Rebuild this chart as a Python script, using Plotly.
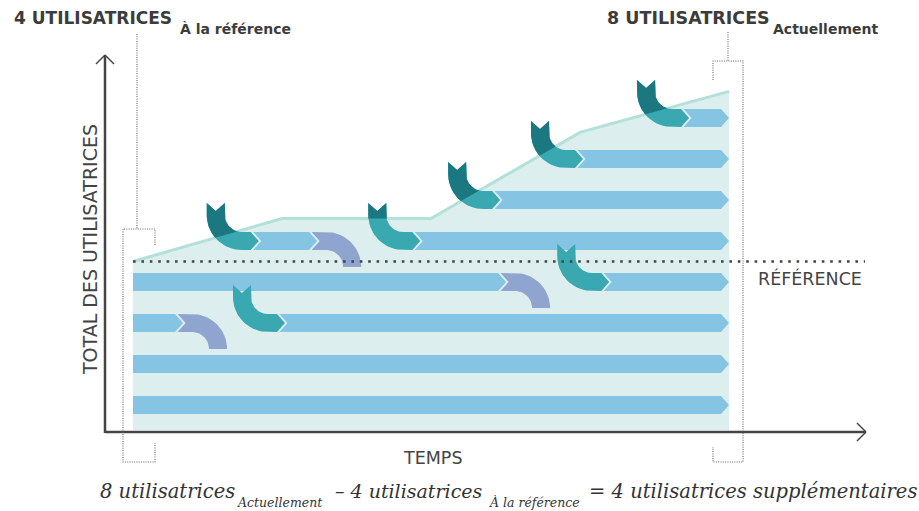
import math
import plotly.graph_objects as go

# ---------------- data ----------------
env_time = [0, 25, 50, 75, 100]            # time points of the total-users envelope
env_users = [4.0, 5.05, 5.05, 7.15, 8.15]  # total users (envelope height)
reference_users = 4

seg_lane = [0, 1, 2, 2, 3, 3, 4, 4, 5, 6, 7]
seg_start = [0, 0, 0, 25.5, 0, 79.9, 21.1, 48.2, 61.6, 75.5, 93.3]
seg_end = [100, 100, 8.4, 100, 62.6, 100, 30.9, 100, 100, 100, 100]

join_lane = [4, 2, 4, 5, 3, 6, 7]
join_time = [21.1, 25.5, 48.2, 61.6, 79.9, 75.5, 93.3]
leave_lane = [2, 4, 3]
leave_time = [8.4, 30.9, 62.6]

title_left = "4 UTILISATRICES"
title_left_sub = "À la référence"
title_right = "8 UTILISATRICES"
title_right_sub = "Actuellement"
x_label = "TEMPS"
y_label = "TOTAL DES UTILISATRICES"
ref_label = "RÉFÉRENCE"
formula_parts = ["8 utilisatrices", "Actuellement", "– 4 utilisatrices",
                 "À la référence", "= 4 utilisatrices supplémentaires"]

# ---------------- layout / style constants ----------------
W, H = 919, 511
X0, SX = 133.0, 5.96     # pixel of t=0, pixels per time unit
Y0, SY = 425.5, 41.0     # pixel of 0 users, pixels per user
HB, D, G = 9.0, 8.0, 2.5  # half bar height, chevron depth, gap (px)
RO = 35.0
RI = RO - 2 * HB
TAIL, NOTCH = 12.0, 8.0

C_AREA = "#dceeed"
C_ENV = "#b4e0da"
C_BAR = "#86c4e4"
C_TEAL = "#3aa8b0"
C_DARK = "#1b7880"
C_PURPLE = "#8fa4ce"
C_AXIS = "#444444"
C_TEXT = "#3c3c3c"


def to_px(t, u):
    return X0 + t * SX, Y0 - u * SY


def lane_px(k):
    return Y0 - (k + 0.5) * SY


def arc(xc, yc, r, a0, a1, n=18):
    out = []
    for i in range(n + 1):
        a = math.radians(a0 + (a1 - a0) * i / n)
        out.append((xc + r * math.cos(a), yc + r * math.sin(a)))
    return out


def add_poly(store, pts):
    for x, y in pts + [pts[0]]:
        store[0].append((x - X0) / SX)
        store[1].append((Y0 - y) / SY)
    store[0].append(None)
    store[1].append(None)


# bars
bars = ([], [])
for k, s, e in zip(seg_lane, seg_start, seg_end):
    yl = lane_px(k)
    xs, _ = to_px(s, 0)
    xe, _ = to_px(e, 0)
    pts = []
    if s == 0:
        pts += [(xs, yl + HB), (xs, yl - HB)]
    else:
        pts += [(xs + G, yl), (xs - D + G, yl - HB)]
    pts += [(xe - D, yl - HB), (xe, yl), (xe - D, yl + HB)]
    if s != 0:
        pts += [(xs - D + G, yl + HB)]
    add_poly(bars, pts)

# leave arrows (purple)
purple = ([], [])
for k, t in zip(leave_lane, leave_time):
    yl = lane_px(k)
    xb, _ = to_px(t, 0)
    xc, yc = xb + 9, yl - HB + RO
    pts = [(xb - D + G, yl - HB), (xc, yl - HB)]
    pts += arc(xc, yc, RO, -90, 0)
    pts += arc(xc, yc, RI, 0, -90)
    pts += [(xb - D + G, yl + HB), (xb + G, yl)]
    add_poly(purple, pts)

# envelope in px
env_px = [to_px(t, u) for t, u in zip(env_time, env_users)]


def clip_above(poly, p1, p2):
    (x1, y1), (x2, y2) = p1, p2

    def f(p):
        return p[1] - (y1 + (p[0] - x1) * (y2 - y1) / (x2 - x1))
    out = []
    n = len(poly)
    for i in range(n):
        P, Q = poly[i], poly[(i + 1) % n]
        fp, fq = f(P), f(Q)
        if fp <= 0:
            out.append(P)
        if (fp < 0) != (fq < 0) and fp != fq:
            s = fp / (fp - fq)
            out.append((P[0] + s * (Q[0] - P[0]), P[1] + s * (Q[1] - P[1])))
    return out


teal = ([], [])
dark = ([], [])
for k, t in zip(join_lane, join_time):
    yl = lane_px(k)
    xt, _ = to_px(t, 0)
    xc, yc = xt - 17, yl + HB - RO
    ytop = yc - TAIL
    pts = [(xc - RO, ytop), (xc - (RO + RI) / 2, ytop + NOTCH), (xc - RI, ytop)]
    pts += arc(xc, yc, RI, 180, 90)
    pts += [(xt - D, yl - HB), (xt, yl), (xt - D, yl + HB)]
    pts += arc(xc, yc, RO, 90, 180)
    add_poly(teal, pts)
    xr = xc - (RO + RI) / 2
    for p1, p2 in zip(env_px[:-1], env_px[1:]):
        if p1[0] <= xr <= p2[0]:
            cp = clip_above(pts, p1, p2)
            if len(cp) >= 3:
                add_poly(dark, cp)
            break

ub = (Y0 - 430) / SY
area_x = env_time + [env_time[-1], env_time[0]]
area_y = env_users + [ub, ub]

fig = go.Figure()
fig.add_trace(go.Scatter(x=area_x, y=area_y, fill="toself", fillcolor=C_AREA,
                         mode="lines", line=dict(width=0), hoverinfo="skip"))
fig.add_trace(go.Scatter(x=env_time, y=env_users, mode="lines",
                         line=dict(color=C_ENV, width=3), hoverinfo="skip"))
for store, col in [(bars, C_BAR), (purple, C_PURPLE), (teal, C_TEAL), (dark, C_DARK)]:
    fig.add_trace(go.Scatter(x=store[0], y=store[1], fill="toself", fillcolor=col,
                             mode="lines", line=dict(width=0), hoverinfo="skip"))
ref_end = (865 - X0) / SX
fig.add_trace(go.Scatter(x=[0, ref_end], y=[reference_users, reference_users], mode="lines",
                         line=dict(color=C_AXIS, width=2.6, dash="2.6px,5.8px"),
                         hoverinfo="skip"))


def P(x, y):
    return x / W, 1 - y / H


shapes = []


def line(x0, y0, x1, y1, color=C_AXIS, width=2.5, dash="solid"):
    a, b = P(x0, y0)
    c, d = P(x1, y1)
    shapes.append(dict(type="line", xref="paper", yref="paper", x0=a, y0=b, x1=c, y1=d,
                       line=dict(color=color, width=width, dash=dash)))


# axes
line(105, 433, 105, 56)
line(105, 432, 866, 432)
line(96, 64, 105, 55, width=1.4)
line(114, 64, 105, 55, width=1.4)
line(857, 423, 866, 432, width=1.4)
line(857, 441, 866, 432, width=1.4)


def path(pts, color="#666666"):
    d = "M " + " L ".join("%f,%f" % P(x, y) for x, y in pts)
    shapes.append(dict(type="path", xref="paper", yref="paper", path=d,
                       line=dict(color=color, width=1.1, dash="1px,1.3px")))


# dotted brackets
path([(137, 34), (137, 229)])
path([(155, 245), (155, 229), (123, 229), (123, 462), (155, 462), (155, 443)])
path([(728, 32), (728, 61)])
path([(713, 80), (713, 61), (743, 61), (743, 462), (713, 462), (713, 447)])

ann = []


def text(x, y, s, size, family="DejaVu Sans", color=C_TEXT, xanchor="left", angle=0):
    a, b = P(x, y)
    f = dict(size=size, family=family, color=color)
    ann.append(dict(x=a, y=b, xref="paper", yref="paper", text=s, showarrow=False,
                    xanchor=xanchor, yanchor="middle", font=f, textangle=angle,
                    borderpad=0))


text(13, 18, "<b>%s</b>" % title_left, 17)
text(179, 29, "<b>%s</b>" % title_left_sub, 14)
text(606, 18, "<b>%s</b>" % title_right, 17.5)
text(772, 29, "<b>%s</b>" % title_right_sub, 14)
text(810, 278, ref_label, 17.5, color="#444444", xanchor="center")
text(433, 458, x_label, 17.5, color="#444444", xanchor="center")
text(90, 250, y_label, 19, color="#444444", xanchor="center", angle=-90)

SER = "DejaVu Serif"
text(99, 491, "<i>%s</i>" % formula_parts[0], 19.5, family=SER, color="#333333")
text(236, 502, "<i>%s</i>" % formula_parts[1], 12.5, family=SER, color="#333333")
text(334, 491, "<i>%s</i>" % formula_parts[2], 19, family=SER, color="#333333")
text(488, 502, "<i>%s</i>" % formula_parts[3], 12.5, family=SER, color="#333333")
text(588, 491, "<i>%s</i>" % formula_parts[4], 19.5, family=SER, color="#333333")

fig.update_layout(
    width=W, height=H, margin=dict(l=0, r=0, t=0, b=0),
    paper_bgcolor="white", plot_bgcolor="white", showlegend=False,
    xaxis=dict(range=[-X0 / SX, (W - X0) / SX], visible=False, fixedrange=True),
    yaxis=dict(range=[(Y0 - H) / SY, Y0 / SY], visible=False, fixedrange=True),
    shapes=shapes, annotations=ann,
)
fig.write_html("out.html", config={"displayModeBar": False, "staticPlot": True},
               post_script="document.body.style.margin='0px';"
               "document.body.style.overflow='hidden';")
